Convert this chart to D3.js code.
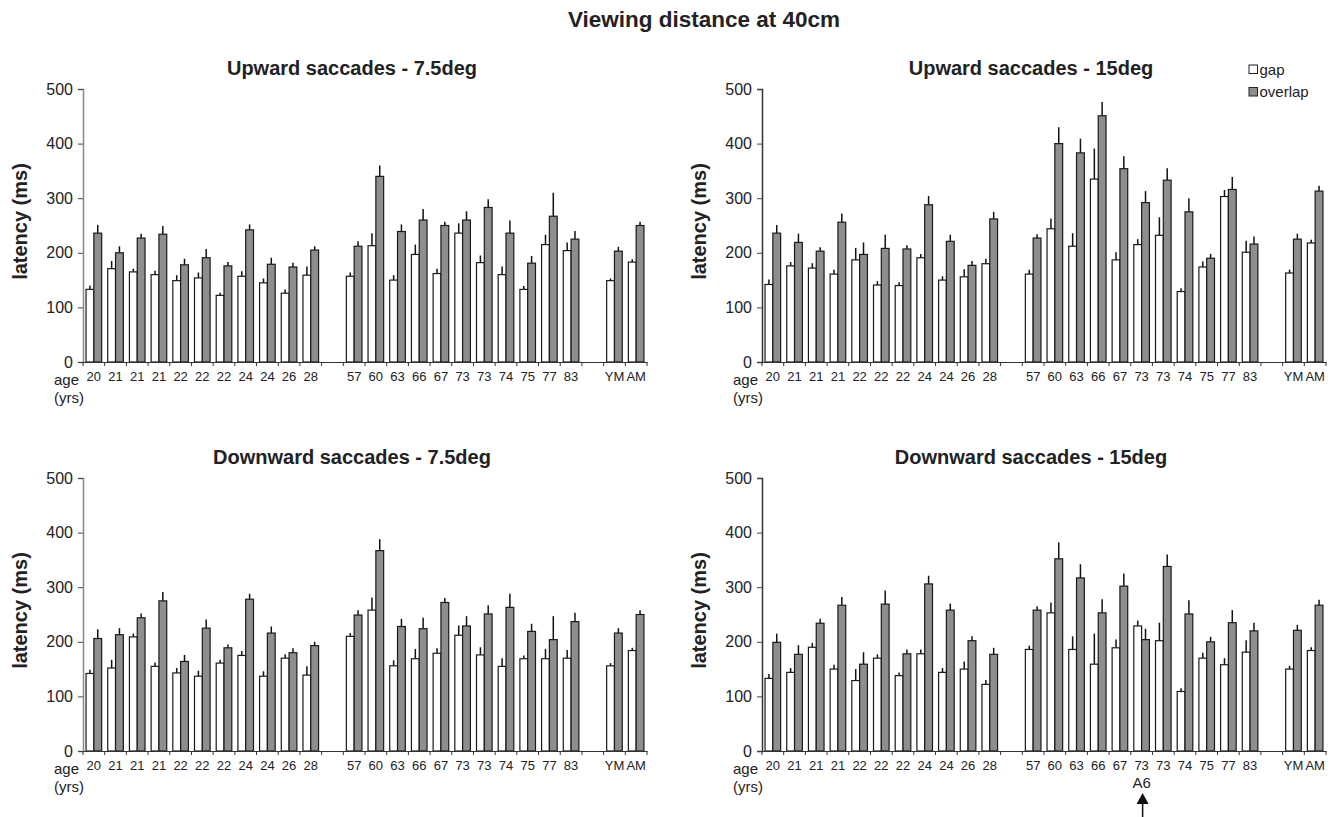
<!DOCTYPE html>
<html>
<head>
<meta charset="utf-8">
<script src="https://cdn.jsdelivr.net/npm/d3@7"></script>
<style>
  body { margin: 0; background: #fff; }
  text { font-family: "Liberation Sans", Arial, Helvetica, sans-serif; fill: #222; }
</style>
</head>
<body>
<div id="chart"></div>
<script>

// category labels: 11 young, empty slot, 11 older, empty slot, two means
var ages = ["20","21","21","21","22","22","22","24","24","26","28", "",
            "57","60","63","66","67","73","73","74","75","77","83", "",
            "YM","AM"];
var series = ["gap", "overlap"];

// Upward saccades - 7.5deg
var up75Gap       = [133,171,165,160,149,154,122,157,145,126,159, 157,213,150,197,162,236,182,160,133,215,204, 149,183];
var up75GapSE     = [7,14,6,7,10,10,5,9,8,7,16, 7,23,9,18,9,18,13,15,6,18,15, 4,5];
var up75Overlap   = [236,200,227,234,178,191,176,242,179,174,205, 212,340,239,260,250,260,283,236,181,267,225, 203,250];
var up75OverlapSE = [15,12,8,15,11,16,7,10,12,8,7, 9,20,13,20,7,16,15,23,13,43,15, 8,7];

// Upward saccades - 15deg
var up15Gap       = [142,176,172,161,187,141,140,191,150,156,180, 161,244,212,335,187,215,232,129,174,303,201, 163,218];
var up15GapSE     = [9,7,9,8,22,7,6,7,7,14,9, 8,19,24,56,14,10,33,6,10,12,21, 6,6];
var up15Overlap   = [236,219,203,256,197,208,207,288,221,177,262, 227,400,383,451,354,292,333,275,190,316,216, 225,313];
var up15OverlapSE = [15,16,7,16,22,25,7,16,12,8,13, 7,30,26,25,23,21,22,25,8,23,14, 10,10];

// Downward saccades - 7.5deg
var down75Gap       = [142,152,209,155,143,137,161,175,137,170,139, 210,258,156,169,179,212,176,155,169,169,170, 156,184];
var down75GapSE     = [7,15,6,7,9,10,6,8,9,7,16, 6,23,10,18,9,18,14,15,6,18,15, 5,5];
var down75Overlap   = [206,213,244,275,164,225,189,278,216,180,193, 249,367,228,224,272,229,251,263,219,204,237, 216,250];
var down75OverlapSE = [17,12,8,16,12,16,6,10,12,8,7, 9,21,14,20,8,18,16,25,14,43,16, 9,8];

// Downward saccades - 15deg
var down15Gap       = [133,144,190,150,129,170,138,178,144,150,122, 186,253,186,159,189,229,202,109,170,158,181, 150,184];
var down15GapSE     = [8,8,8,8,21,7,6,8,8,14,8, 7,19,24,56,15,10,33,6,10,12,22, 6,6];
var down15Overlap   = [199,177,234,267,159,269,178,306,258,202,177, 258,352,317,253,302,204,338,251,200,235,220, 221,267];
var down15OverlapSE = [16,17,8,15,22,25,8,15,12,8,12, 7,30,25,25,23,20,22,25,9,23,15, 10,10];

var width = 564,
    height = 273;

var panels = [
  {title: "Upward saccades - 7.5deg", gap: up75Gap, gapSE: up75GapSE, overlap: up75Overlap, overlapSE: up75OverlapSE,
   left: 83, top: 89, axisColor: "#888"},
  {title: "Upward saccades - 15deg", gap: up15Gap, gapSE: up15GapSE, overlap: up15Overlap, overlapSE: up15OverlapSE,
   left: 762, top: 89, axisColor: "#333"},
  {title: "Downward saccades - 7.5deg", gap: down75Gap, gapSE: down75GapSE, overlap: down75Overlap, overlapSE: down75OverlapSE,
   left: 83, top: 478, axisColor: "#888"},
  {title: "Downward saccades - 15deg", gap: down15Gap, gapSE: down15GapSE, overlap: down15Overlap, overlapSE: down15OverlapSE,
   left: 762, top: 478, axisColor: "#333", marker: 17, markerText: "A6"}
];

var fills = {gap: "#fff", overlap: "#8e8e8e"};

var svg = d3.select("#chart").append("svg")
    .attr("width", 1337)
    .attr("height", 817);

svg.append("text")
    .attr("x", 704)
    .attr("y", 27)
    .attr("text-anchor", "middle")
    .style("font-size", "22.5px")
    .style("font-weight", "bold")
    .text("Viewing distance at 40cm");

// slots that hold bars (skip the empty separators)
var barSlots = d3.range(ages.length).filter(function(i) { return ages[i] !== ""; });

var x0 = d3.scaleBand().domain(d3.range(ages.length)).range([0, width]);
var x1 = d3.scaleBand().domain(series).range([0, x0.bandwidth()]).paddingOuter(0.39);
var y = d3.scaleLinear().domain([0, 500]).range([height, 0]);

panels.forEach(drawPanel);

function drawPanel(p) {
  var g = svg.append("g")
      .attr("transform", "translate(" + p.left + "," + p.top + ")");

  var rows = barSlots.map(function(slot, i) {
    return {slot: slot, values: [
      {key: "gap", v: p.gap[i], se: p.gapSE[i]},
      {key: "overlap", v: p.overlap[i], se: p.overlapSE[i]}
    ]};
  });

  g.append("text")
      .attr("x", 269)
      .attr("y", -14)
      .attr("text-anchor", "middle")
      .style("font-size", "20px")
      .style("font-weight", "bold")
      .text(p.title);

  g.append("text")
      .attr("transform", "translate(-56," + (height / 2 - 4) + ") rotate(-90)")
      .attr("text-anchor", "middle")
      .style("font-size", "20px")
      .style("font-weight", "bold")
      .text("latency (ms)");

  var groups = g.selectAll(".grp")
      .data(rows)
      .enter().append("g")
      .attr("class", "grp")
      .attr("transform", function(d) { return "translate(" + x0(d.slot) + ",0)"; });

  groups.selectAll("line.err")
      .data(function(d) { return d.values; })
      .enter().append("line")
      .attr("class", "err")
      .attr("x1", function(d) { return x1(d.key) + x1.bandwidth() / 2; })
      .attr("x2", function(d) { return x1(d.key) + x1.bandwidth() / 2; })
      .attr("y1", function(d) { return y(d.v); })
      .attr("y2", function(d) { return y(d.v + d.se); })
      .attr("stroke", "#111")
      .attr("stroke-width", 1.5);

  groups.selectAll("rect")
      .data(function(d) { return d.values; })
      .enter().append("rect")
      .attr("x", function(d) { return x1(d.key); })
      .attr("y", function(d) { return y(d.v); })
      .attr("width", x1.bandwidth())
      .attr("height", function(d) { return height - y(d.v); })
      .attr("fill", function(d) { return fills[d.key]; })
      .attr("stroke", "#1a1a1a")
      .attr("stroke-width", 1.2);

  // y axis
  var yAxis = g.append("g")
      .call(d3.axisLeft(y).tickValues([0, 100, 200, 300, 400, 500]).tickSize(5).tickPadding(5));
  yAxis.select(".domain").attr("stroke", p.axisColor).attr("stroke-width", 1.5);
  yAxis.selectAll(".tick line").attr("stroke", "#444");
  yAxis.selectAll("text").style("font-size", "16px").attr("fill", "#222");

  // x axis: labels centred in slots, ticks on slot boundaries
  var xAxis = g.append("g")
      .attr("transform", "translate(0," + height + ")")
      .call(d3.axisBottom(x0).tickSize(0).tickPadding(10)
        .tickFormat(function(i) { return ages[i]; }));
  xAxis.select(".domain").attr("stroke", "#333").attr("stroke-width", 1.2);
  xAxis.selectAll("text").style("font-size", "13px").attr("fill", "#222");

  xAxis.selectAll(".bound")
      .data(d3.range(ages.length + 1))
      .enter().append("line")
      .attr("class", "bound")
      .attr("x1", function(i) { return i * x0.step(); })
      .attr("x2", function(i) { return i * x0.step(); })
      .attr("y1", 0)
      .attr("y2", 4)
      .attr("stroke", "#333");

  g.append("text")
      .attr("x", -29)
      .attr("y", height + 22.5)
      .style("font-size", "15px")
      .text("age");
  g.append("text")
      .attr("x", -29)
      .attr("y", height + 41)
      .style("font-size", "15px")
      .text("(yrs)");

  if (p.marker !== undefined) {
    var mx = x0(p.marker) + x0.bandwidth() / 2;
    g.append("text")
        .attr("x", mx)
        .attr("y", height + 37)
        .attr("text-anchor", "middle")
        .style("font-size", "15px")
        .text(p.markerText);
    g.append("line")
        .attr("x1", mx + 1).attr("x2", mx + 1)
        .attr("y1", height + 52).attr("y2", 817 - p.top)
        .attr("stroke", "#111").attr("stroke-width", 1.5);
    g.append("path")
        .attr("d", "M" + (mx + 1) + "," + (height + 42) + "l6,11h-12z")
        .attr("fill", "#111");
  }
}

// legend
var legend = svg.append("g").attr("transform", "translate(1249,65)");
series.forEach(function(s, i) {
  legend.append("rect")
      .attr("x", 0)
      .attr("y", i * 22.5)
      .attr("width", 8.5)
      .attr("height", 8.5)
      .attr("fill", fills[s])
      .attr("stroke", "#222");
  legend.append("text")
      .attr("x", 10.5)
      .attr("y", i * 22.5 + 9.5)
      .style("font-size", "15px")
      .text(s);
});

</script>
</body>
</html>
